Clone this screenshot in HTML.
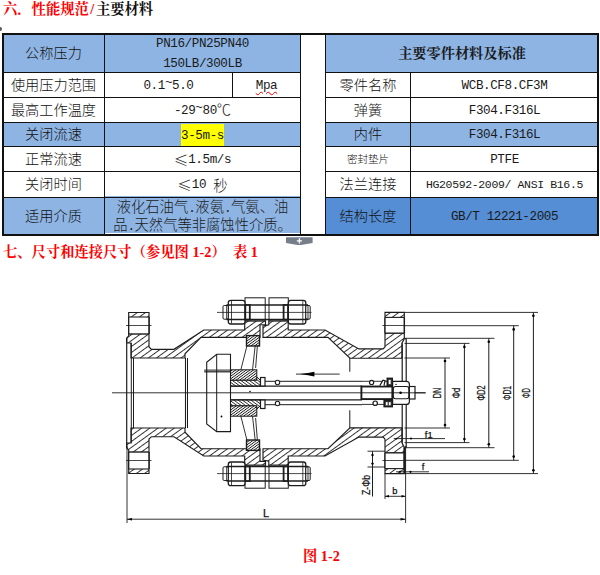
<!DOCTYPE html>
<html lang="zh-CN">
<head>
<meta charset="utf-8">
<title>性能规范</title>
<style>
html,body{margin:0;padding:0;background:#fff;}
body{width:600px;height:575px;position:relative;overflow:hidden;font-family:"Liberation Serif","Noto Serif CJK SC",serif;color:#1a1a1a;}
.abs{position:absolute;}
.h{position:absolute;left:3px;font-weight:700;font-size:14.3px;line-height:16px;white-space:nowrap;color:#f00;font-family:"Liberation Serif","Noto Serif CJK SC",serif;}
.h i{font-style:normal;display:inline-block;width:7.15px;text-align:center;}
.h b{color:#111;font-weight:700;}
.cell{position:absolute;display:flex;align-items:center;justify-content:center;text-align:center;box-sizing:border-box;font-size:14px;line-height:18px;white-space:nowrap;}
.blue{background:#8db4e3;}
.dblue{background:#558ed5;}
.lab{font-family:"Liberation Sans","Noto Sans CJK SC",sans-serif;font-weight:300;font-size:14.2px;letter-spacing:0;color:#111;}
.val{font-family:"Liberation Mono","Noto Sans CJK SC",monospace;font-size:12.6px;letter-spacing:-0.41px;color:#1a1a1a;padding-top:2.5px;}
.cj{font-family:"Noto Sans CJK SC",sans-serif;font-weight:300;font-size:14.3px;line-height:0;letter-spacing:0;}
.cj i{font-style:normal;display:inline-block;width:7.15px;text-align:left;font-family:"Liberation Mono",monospace;font-size:12.6px;line-height:0;}
.ln{position:absolute;background:#111;}
</style>
</head>
<body>
<div class="h" style="top:1px;">六．性能规范<i>/</i><b>主要材料</b></div>
<div class="h" style="top:244px;">七、尺寸和连接尺寸（参见图 1-2）<i> </i>表 1</div>

<!-- left table backgrounds + text -->
<div class="cell blue lab" style="left:3px;top:34px;width:101px;height:38px;">公称压力</div>
<div class="cell blue val" style="left:105px;top:34px;width:195px;height:38px;white-space:normal;line-height:19.5px;padding-top:3px;">PN16/PN25PN40<br>150LB/300LB</div>
<div class="cell lab" style="left:3px;top:72px;width:101px;height:25px;">使用压力范围</div>
<div class="cell val" style="left:105px;top:72px;width:127px;height:25px;">0.1<span style="position:relative;top:-3px;">~</span>5.0</div>
<div class="cell val" style="left:233px;top:72px;width:67px;height:25px;"><span style="text-decoration:underline wavy #e00 1px;text-underline-offset:2px;">Mpa</span></div>
<div class="cell lab" style="left:3px;top:97px;width:101px;height:25px;">最高工作温度</div>
<div class="cell val" style="left:105px;top:97px;width:195px;height:25px;">-29<span style="position:relative;top:-3px;">~</span>80<span class="cj" style="position:relative;top:-1.5px;">℃</span></div>
<div class="cell blue lab" style="left:3px;top:122px;width:101px;height:24px;">关闭流速</div>
<div class="cell blue val" style="left:105px;top:122px;width:195px;height:24px;"><span style="background:#ff0;padding:3px 0 2px;">3-5m-s</span></div>
<div class="cell lab" style="left:3px;top:146px;width:101px;height:25px;">正常流速</div>
<div class="cell val" style="left:105px;top:146px;width:195px;height:25px;"><span class="cj">≤</span>1.5m/s</div>
<div class="cell lab" style="left:3px;top:171px;width:101px;height:26px;">关闭时间</div>
<div class="cell val" style="left:105px;top:171px;width:195px;height:26px;"><span class="cj">≤</span>10&nbsp;<span class="cj">秒</span></div>
<div class="cell blue lab" style="left:3px;top:197px;width:101px;height:37px;">适用介质</div>
<div class="cell blue cj" style="left:105px;top:196px;width:195px;height:37px;white-space:nowrap;line-height:18px;color:#1a1a1a;"><div>液化石油气<i>.</i>液氨<i>.</i>气氨、油<br>品<i>.</i>天然气等非腐蚀性介质。</div></div>

<!-- right table -->
<div class="cell blue" style="left:326px;top:34px;width:272px;height:38px;font-weight:bold;font-size:14.2px;padding-bottom:1px;">主要零件材料及标准</div>
<div class="cell lab" style="left:326px;top:72px;width:84px;height:25px;">零件名称</div>
<div class="cell val" style="left:411px;top:72px;width:187px;height:25px;">WCB.CF8.CF3M</div>
<div class="cell lab" style="left:326px;top:97px;width:84px;height:25px;">弹簧</div>
<div class="cell val" style="left:411px;top:97px;width:187px;height:25px;">F304.F316L</div>
<div class="cell blue lab" style="left:326px;top:122px;width:84px;height:24px;">内件</div>
<div class="cell blue val" style="left:411px;top:122px;width:187px;height:24px;">F304.F316L</div>
<div class="cell lab" style="left:326px;top:146px;width:84px;height:25px;font-size:10.5px;letter-spacing:0;">密封垫片</div>
<div class="cell val" style="left:411px;top:146px;width:187px;height:25px;">PTFE</div>
<div class="cell lab" style="left:326px;top:171px;width:84px;height:26px;">法兰连接</div>
<div class="cell val" style="left:411px;top:171px;width:187px;height:26px;font-size:11.5px;letter-spacing:-0.36px;">HG20592-2009/ ANSI B16.5</div>
<div class="cell dblue lab" style="left:326px;top:197px;width:84px;height:37px;">结构长度</div>
<div class="cell dblue val" style="left:411px;top:197px;width:187px;height:37px;">GB/T 12221-2005</div>

<!-- grid lines -->
<div class="ln" style="left:2px;top:33px;width:596.8px;height:2px;"></div>
<div class="ln" style="left:2px;top:234.4px;width:596.8px;height:1.7px;"></div>
<div class="ln" style="left:2px;top:33px;width:1.5px;height:202px;"></div>
<div class="ln" style="left:104px;top:33px;width:1px;height:202px;"></div>
<div class="ln" style="left:300px;top:33px;width:1.4px;height:202px;"></div>
<div class="ln" style="left:324.5px;top:33px;width:1.4px;height:202px;"></div>
<div class="ln" style="left:410px;top:72px;width:1px;height:163px;"></div>
<div class="ln" style="left:597.4px;top:33px;width:1.4px;height:202px;"></div>
<div class="ln" style="left:232px;top:72px;width:1px;height:25px;"></div>
<!-- h lines left -->
<div class="ln" style="left:2px;top:72px;width:299px;height:1px;"></div>
<div class="ln" style="left:2px;top:97px;width:299px;height:1px;"></div>
<div class="ln" style="left:2px;top:122px;width:299px;height:1px;"></div>
<div class="ln" style="left:2px;top:146px;width:299px;height:1px;"></div>
<div class="ln" style="left:2px;top:171px;width:299px;height:1px;"></div>
<div class="ln" style="left:2px;top:197px;width:299px;height:1px;"></div>
<!-- h lines right -->
<div class="ln" style="left:325px;top:72px;width:274px;height:1px;"></div>
<div class="ln" style="left:325px;top:97px;width:274px;height:1px;"></div>
<div class="ln" style="left:325px;top:122px;width:274px;height:1px;"></div>
<div class="ln" style="left:325px;top:146px;width:274px;height:1px;"></div>
<div class="ln" style="left:325px;top:171px;width:274px;height:1px;"></div>
<div class="ln" style="left:325px;top:197px;width:274px;height:1px;"></div>

<!-- DRAWING -->
<svg class="abs" id="dwg" style="left:0;top:270px;" width="600" height="305" viewBox="0 270 600 305">
<defs>
<pattern id="h1" width="4.8" height="4.8" patternUnits="userSpaceOnUse" patternTransform="rotate(-36)"><rect width="4.8" height="4.8" fill="#fff"/><line x1="0" y1="2.4" x2="4.8" y2="2.4" stroke="#222" stroke-width="0.9"/></pattern>
<pattern id="h2" width="2.1" height="2.1" patternUnits="userSpaceOnUse" patternTransform="rotate(-36)"><rect width="2.1" height="2.1" fill="#fff"/><line x1="0" y1="1.05" x2="2.1" y2="1.05" stroke="#111" stroke-width="0.8"/></pattern>
<pattern id="h3" width="2.5" height="2.5" patternUnits="userSpaceOnUse" patternTransform="rotate(36)"><rect width="2.5" height="2.5" fill="#fff"/><line x1="0" y1="1.25" x2="2.5" y2="1.25" stroke="#222" stroke-width="0.8"/></pattern>
</defs>
<style>.sec{fill:url(#h1);stroke:#1c1c1c;stroke-width:1.15;stroke-linejoin:miter}.s2{fill:url(#h2);stroke:#1c1c1c;stroke-width:1}.s3{fill:url(#h3);stroke:#1c1c1c;stroke-width:1}.t{font-family:"Liberation Sans",sans-serif;font-size:9px;fill:#111;stroke:#111;stroke-width:0.25px}</style>
<path class="sec" d="M131 358 L131 343 L126.7 343 L126.7 338 L128.7 336 L128.7 312.5 L149 312.5 L149 347 L151.5 349.3 L174 349.3 L203.75 330 L244.7 330 L244.7 320.8 L265.5 320.8 L265.5 324.7 L260 324.7 L260 337.3 L201 337.3 L185 353.75 L185 358 Z" />
<path class="sec" d="M131 428 L131 443 L126.7 443 L126.7 448 L128.7 450 L128.7 473.5 L149 473.5 L149 439 L151.5 436.7 L174 436.7 L203.75 456 L244.7 456 L244.7 465.2 L265.5 465.2 L265.5 461.3 L260 461.3 L260 448.7 L201 448.7 L185 432.25 L185 428 Z" />
<path class="sec" d="M263 337.3 L263 326 L268.8 324.7 L268.8 320.8 L288.2 320.8 L288.2 330 L325 330 L358.9 348.9 L383.2 348.9 L385 346.8 L385 312.4 L404.3 312.4 L404.3 338.6 L402 343.2 L402 358.2 L350 358.2 L328 337.3 Z" />
<path class="sec" d="M263 448.7 L263 460 L268.8 461.3 L268.8 465.2 L288.2 465.2 L288.2 456 L325 456 L358.9 437.1 L383.2 437.1 L385 439.2 L385 473.6 L404.3 473.6 L404.3 447.4 L402 442.8 L402 427.8 L350 427.8 L328 448.7 Z" />
<rect x="128.7" y="317" width="20.30000000000001" height="17" fill="#fff"/>
<line x1="128.7" y1="317" x2="149" y2="317" stroke="#1c1c1c" stroke-width="1.1" />
<line x1="128.7" y1="334" x2="149" y2="334" stroke="#1c1c1c" stroke-width="1.4" />
<line x1="128.7" y1="317" x2="128.7" y2="334" stroke="#1c1c1c" stroke-width="1.3" />
<line x1="149" y1="317" x2="149" y2="334" stroke="#1c1c1c" stroke-width="1.5" />
<line x1="126" y1="325.5" x2="151.5" y2="325.5" stroke="#1c1c1c" stroke-width="0.8" />
<rect x="128.7" y="452" width="20.30000000000001" height="17" fill="#fff"/>
<line x1="128.7" y1="469" x2="149" y2="469" stroke="#1c1c1c" stroke-width="1.1" />
<line x1="128.7" y1="452" x2="149" y2="452" stroke="#1c1c1c" stroke-width="1.4" />
<line x1="128.7" y1="469" x2="128.7" y2="452" stroke="#1c1c1c" stroke-width="1.3" />
<line x1="149" y1="469" x2="149" y2="452" stroke="#1c1c1c" stroke-width="1.5" />
<line x1="126" y1="460.5" x2="151.5" y2="460.5" stroke="#1c1c1c" stroke-width="0.8" />
<rect x="385" y="317.4" width="19.30000000000001" height="15.8" fill="#fff"/>
<line x1="385" y1="317.4" x2="404.3" y2="317.4" stroke="#1c1c1c" stroke-width="1.1" />
<line x1="385" y1="333.2" x2="404.3" y2="333.2" stroke="#1c1c1c" stroke-width="1.4" />
<line x1="385" y1="317.4" x2="385" y2="333.2" stroke="#1c1c1c" stroke-width="1.3" />
<line x1="404.3" y1="317.4" x2="404.3" y2="333.2" stroke="#1c1c1c" stroke-width="1.5" />
<line x1="382.4" y1="325.5" x2="404.3" y2="325.5" stroke="#1c1c1c" stroke-width="0.8" />
<rect x="385" y="452.8" width="19.30000000000001" height="15.8" fill="#fff"/>
<line x1="385" y1="468.6" x2="404.3" y2="468.6" stroke="#1c1c1c" stroke-width="1.1" />
<line x1="385" y1="452.8" x2="404.3" y2="452.8" stroke="#1c1c1c" stroke-width="1.4" />
<line x1="385" y1="468.6" x2="385" y2="452.8" stroke="#1c1c1c" stroke-width="1.3" />
<line x1="404.3" y1="468.6" x2="404.3" y2="452.8" stroke="#1c1c1c" stroke-width="1.5" />
<line x1="382.4" y1="460.5" x2="404.3" y2="460.5" stroke="#1c1c1c" stroke-width="0.8" />
<line x1="126.7" y1="338" x2="126.7" y2="448" stroke="#1c1c1c" stroke-width="1.2" />
<line x1="131.3" y1="343" x2="131.3" y2="443" stroke="#1c1c1c" stroke-width="1" />
<line x1="133.5" y1="358" x2="133.5" y2="428" stroke="#1c1c1c" stroke-width="1" />
<line x1="185.5" y1="358" x2="185.5" y2="428" stroke="#1c1c1c" stroke-width="1.1" />
<line x1="187.5" y1="358" x2="187.5" y2="428" stroke="#1c1c1c" stroke-width="1" />
<path d="M404.3 338.8 L406.3 338.8" fill="none" stroke="#1c1c1c" stroke-width="1" />
<path d="M404.3 447.2 L406.3 447.2" fill="none" stroke="#1c1c1c" stroke-width="1" />
<line x1="402.2" y1="343.2" x2="402.2" y2="442.8" stroke="#1c1c1c" stroke-width="1.2" />
<line x1="406.2" y1="338.8" x2="406.2" y2="447.2" stroke="#1c1c1c" stroke-width="1.2" />
<line x1="349.8" y1="358" x2="349.8" y2="371.7" stroke="#1c1c1c" stroke-width="1" />
<line x1="349.8" y1="410.3" x2="349.8" y2="428" stroke="#1c1c1c" stroke-width="1" />
<line x1="404.6" y1="447.5" x2="404.6" y2="473.5" stroke="#1c1c1c" stroke-width="2.2" />
<rect x="245" y="297.8" width="20.2" height="23" fill="#fff" stroke="#1c1c1c" stroke-width="1" />
<rect x="269" y="297.8" width="19.3" height="23" fill="#fff" stroke="#1c1c1c" stroke-width="1" />
<rect x="228.3" y="300.3" width="16.7" height="23.7" fill="#fff" stroke="#1c1c1c" stroke-width="1.3" rx="2.5"/>
<rect x="288.3" y="300.3" width="17.5" height="23.7" fill="#fff" stroke="#1c1c1c" stroke-width="1.3" rx="2.5"/>
<rect x="223" y="305.5" width="5.3" height="13.7" fill="#fff" stroke="#1c1c1c" stroke-width="1" rx="1.2"/>
<rect x="305.8" y="305.5" width="4.4" height="13.7" fill="#fff" stroke="#1c1c1c" stroke-width="1" rx="1.2"/>
<line x1="226.5" y1="305" x2="308" y2="305" stroke="#1c1c1c" stroke-width="1.5" />
<line x1="226.5" y1="319.5" x2="308" y2="319.5" stroke="#1c1c1c" stroke-width="1.5" />
<line x1="226.7" y1="305" x2="226.7" y2="319.5" stroke="#1c1c1c" stroke-width="0.9" />
<line x1="308" y1="305" x2="308" y2="319.5" stroke="#1c1c1c" stroke-width="0.9" />
<line x1="231.5" y1="301" x2="231.5" y2="323.5" stroke="#1c1c1c" stroke-width="0.8" />
<line x1="302.8" y1="301" x2="302.8" y2="323.5" stroke="#1c1c1c" stroke-width="0.8" />
<rect x="245.3" y="305" width="4.5" height="14.5" fill="#fff" stroke="#1c1c1c" stroke-width="1.8" />
<rect x="283.6" y="305" width="4.4" height="14.5" fill="#fff" stroke="#1c1c1c" stroke-width="1.8" />
<line x1="217" y1="312.4" x2="311.5" y2="312.4" stroke="#1c1c1c" stroke-width="0.8" />
<rect class="s2" style="stroke-width:1.4" x="246.5" y="335.6" width="13" height="10.4"/>
<path d="M247 345.6 L240.8 370" fill="none" stroke="#1c1c1c" stroke-width="0.9" />
<path d="M255.2 345.6 L252.5 370" fill="none" stroke="#1c1c1c" stroke-width="0.9" />
<path d="M257.4 345.6 L255.6 368" fill="none" stroke="#1c1c1c" stroke-width="0.9" />
<rect class="s2" x="230.5" y="369.8" width="26.3" height="10.5"/>
<path class="s3" d="M230.5 380.3 L256.8 380.3 L256.8 377 L260.4 380.3 L260.4 386.2 L230.5 386.2 Z" />
<line x1="264" y1="381.3" x2="362" y2="381.3" stroke="#1c1c1c" stroke-width="1" />
<line x1="230.5" y1="386.2" x2="362" y2="386.2" stroke="#1c1c1c" stroke-width="1.2" />
<rect x="260.5" y="377.5" width="4.5" height="8.5" fill="#fff" stroke="#1c1c1c" stroke-width="1.2" />
<circle cx="277.5" cy="382.5" r="2.2" fill="#fff" stroke="#1c1c1c" stroke-width="1.1"/>
<rect x="245" y="465.2" width="20.2" height="23" fill="#fff" stroke="#1c1c1c" stroke-width="1" />
<rect x="269" y="465.2" width="19.3" height="23" fill="#fff" stroke="#1c1c1c" stroke-width="1" />
<rect x="228.3" y="462" width="16.7" height="23.7" fill="#fff" stroke="#1c1c1c" stroke-width="1.3" rx="2.5"/>
<rect x="288.3" y="462" width="17.5" height="23.7" fill="#fff" stroke="#1c1c1c" stroke-width="1.3" rx="2.5"/>
<rect x="223" y="466.8" width="5.3" height="13.7" fill="#fff" stroke="#1c1c1c" stroke-width="1" rx="1.2"/>
<rect x="305.8" y="466.8" width="4.4" height="13.7" fill="#fff" stroke="#1c1c1c" stroke-width="1" rx="1.2"/>
<line x1="226.5" y1="481" x2="308" y2="481" stroke="#1c1c1c" stroke-width="1.5" />
<line x1="226.5" y1="466.5" x2="308" y2="466.5" stroke="#1c1c1c" stroke-width="1.5" />
<line x1="226.7" y1="481" x2="226.7" y2="466.5" stroke="#1c1c1c" stroke-width="0.9" />
<line x1="308" y1="481" x2="308" y2="466.5" stroke="#1c1c1c" stroke-width="0.9" />
<line x1="231.5" y1="485" x2="231.5" y2="462.5" stroke="#1c1c1c" stroke-width="0.8" />
<line x1="302.8" y1="485" x2="302.8" y2="462.5" stroke="#1c1c1c" stroke-width="0.8" />
<rect x="245.3" y="466.5" width="4.5" height="14.5" fill="#fff" stroke="#1c1c1c" stroke-width="1.8" />
<rect x="283.6" y="466.5" width="4.4" height="14.5" fill="#fff" stroke="#1c1c1c" stroke-width="1.8" />
<line x1="217" y1="473.6" x2="311.5" y2="473.6" stroke="#1c1c1c" stroke-width="0.8" />
<rect class="s2" style="stroke-width:1.4" x="246.5" y="440" width="13" height="10.4"/>
<path d="M247 440.4 L240.8 416" fill="none" stroke="#1c1c1c" stroke-width="0.9" />
<path d="M255.2 440.4 L252.5 416" fill="none" stroke="#1c1c1c" stroke-width="0.9" />
<path d="M257.4 440.4 L255.6 418" fill="none" stroke="#1c1c1c" stroke-width="0.9" />
<rect class="s2" x="230.5" y="405.7" width="26.3" height="10.5"/>
<path class="s3" d="M230.5 405.7 L256.8 405.7 L256.8 409 L260.4 405.7 L260.4 399.8 L230.5 399.8 Z" />
<line x1="264" y1="404.7" x2="362" y2="404.7" stroke="#1c1c1c" stroke-width="1" />
<line x1="230.5" y1="399.8" x2="362" y2="399.8" stroke="#1c1c1c" stroke-width="1.2" />
<rect x="260.5" y="400" width="4.5" height="8.5" fill="#fff" stroke="#1c1c1c" stroke-width="1.2" />
<circle cx="277.5" cy="403.5" r="2.2" fill="#fff" stroke="#1c1c1c" stroke-width="1.1"/>
<path class="d" d="M206.7 362.3 L216.7 354.2 L230.5 354.2 L230.5 431.6 L216.7 431.6 L206.7 424 Z" fill="#fff" stroke="#1c1c1c" stroke-width="1.1"/>
<line x1="216.7" y1="354.2" x2="216.7" y2="431.6" stroke="#1c1c1c" stroke-width="1" />
<line x1="204.2" y1="370.1" x2="230.5" y2="370.1" stroke="#1c1c1c" stroke-width="1" />
<line x1="204.2" y1="371.8" x2="230.5" y2="371.8" stroke="#1c1c1c" stroke-width="1.2" />
<circle cx="221.5" cy="416.5" r="0.9" fill="#000"/>
<circle cx="250" cy="391.5" r="0.8" fill="#000"/>
<line x1="112" y1="392.8" x2="425.6" y2="392.8" stroke="#1c1c1c" stroke-width="0.9" />
<line x1="362" y1="381.3" x2="391" y2="381.3" stroke="#1c1c1c" stroke-width="0.9" />
<line x1="362" y1="404.4" x2="385" y2="404.4" stroke="#1c1c1c" stroke-width="0.9" />
<rect x="361.4" y="386.5" width="31.1" height="12.6" fill="#fff" stroke="#1c1c1c" stroke-width="1.9" />
<path d="M392.5 381.3 L406.4 381.3 Q409.4 381.3 409.4 384.3 L409.4 401.4 Q409.4 404.4 406.4 404.4 L392.5 404.4 Z" fill="#fff" stroke="#1c1c1c" stroke-width="1.2"/>
<rect x="393.3" y="386.5" width="15.6" height="12.3" rx="2.2" fill="none" stroke="#1c1c1c" stroke-width="1.1"/>
<rect x="409.4" y="386.5" width="5.6" height="12.5" fill="#fff" stroke="#1c1c1c" stroke-width="1.2" />
<line x1="392.5" y1="381.3" x2="392.5" y2="404.4" stroke="#1c1c1c" stroke-width="1.3" />
<line x1="361.4" y1="392.8" x2="425.6" y2="392.8" stroke="#1c1c1c" stroke-width="0.9" />
<circle cx="400.6" cy="392.8" r="1.3" fill="#000"/>
<circle cx="396" cy="384.4" r="0.7" fill="#000"/>
<circle cx="371.6" cy="382.4" r="2.1" fill="#fff" stroke="#1c1c1c" stroke-width="1.2"/>
<path d="M379.8 385.6 L383 380.2 L385 380.6 L384 385.6" fill="#fff" stroke="#1c1c1c" stroke-width="1.2"/>
<rect x="387.3" y="378.4" width="4.9" height="7.2" fill="#555" stroke="#1c1c1c" stroke-width="1.6" />
<rect x="388.8" y="380" width="1.8" height="4" fill="#fff"/>
<circle cx="375.2" cy="403.2" r="2.2" fill="#fff" stroke="#1c1c1c" stroke-width="1.2"/>
<rect x="384.2" y="400.8" width="8" height="5.8" fill="#555" stroke="#1c1c1c" stroke-width="1.6" />
<rect x="386" y="402.2" width="1.6" height="3" fill="#fff"/><rect x="389" y="402.2" width="1.6" height="3" fill="#fff"/>
<line x1="296" y1="374.1" x2="339.7" y2="374.1" stroke="#1c1c1c" stroke-width="0.9" />
<path d="M300 374.1 L308 372.9 L314.4 371.7 L314.4 376.5 L308 375.3 Z" fill="#000"/>
<line x1="404.5" y1="358" x2="450" y2="358" stroke="#1c1c1c" stroke-width="0.9" />
<line x1="404.5" y1="428" x2="450" y2="428" stroke="#1c1c1c" stroke-width="0.9" />
<line x1="445" y1="358" x2="445" y2="428" stroke="#1c1c1c" stroke-width="1" />
<circle cx="445" cy="361" r="1.3" fill="#000"/>
<circle cx="445" cy="425" r="1.3" fill="#000"/>
<text class="t" style="font-size:11px" transform="translate(441 398.2) rotate(-90)" textLength="10.4" lengthAdjust="spacingAndGlyphs">DN</text>
<line x1="404.5" y1="343.4" x2="469.5" y2="343.4" stroke="#1c1c1c" stroke-width="0.9" />
<line x1="404.5" y1="442.6" x2="469.5" y2="442.6" stroke="#1c1c1c" stroke-width="0.9" />
<line x1="464.4" y1="343.4" x2="464.4" y2="442.6" stroke="#1c1c1c" stroke-width="1" />
<circle cx="464.4" cy="346.9" r="1.3" fill="#000"/>
<circle cx="464.4" cy="439.1" r="1.3" fill="#000"/>
<text class="t" style="font-size:11px" transform="translate(460 398.2) rotate(-90)" textLength="10.4" lengthAdjust="spacingAndGlyphs">Φd</text>
<line x1="404.5" y1="338.3" x2="494.5" y2="338.3" stroke="#1c1c1c" stroke-width="0.9" />
<line x1="404.5" y1="447.7" x2="494.5" y2="447.7" stroke="#1c1c1c" stroke-width="0.9" />
<line x1="488.8" y1="338.3" x2="488.8" y2="447.7" stroke="#1c1c1c" stroke-width="1" />
<circle cx="488.8" cy="341.8" r="1.3" fill="#000"/>
<circle cx="488.8" cy="444.2" r="1.3" fill="#000"/>
<text class="t" style="font-size:11px" transform="translate(484.6 400.5) rotate(-90)" textLength="15" lengthAdjust="spacingAndGlyphs">ΦD2</text>
<line x1="404.5" y1="325.7" x2="518.75" y2="325.7" stroke="#1c1c1c" stroke-width="0.9" />
<line x1="404.5" y1="460.3" x2="518.75" y2="460.3" stroke="#1c1c1c" stroke-width="0.9" />
<line x1="513.7" y1="325.7" x2="513.7" y2="460.3" stroke="#1c1c1c" stroke-width="1" />
<circle cx="513.7" cy="329.4" r="1.3" fill="#000"/>
<circle cx="513.7" cy="456.6" r="1.3" fill="#000"/>
<text class="t" style="font-size:11px" transform="translate(510.6 400) rotate(-90)" textLength="14" lengthAdjust="spacingAndGlyphs">ΦD1</text>
<line x1="404.5" y1="312.4" x2="538" y2="312.4" stroke="#1c1c1c" stroke-width="0.9" />
<line x1="404.5" y1="473.6" x2="538" y2="473.6" stroke="#1c1c1c" stroke-width="0.9" />
<line x1="533.4" y1="312.4" x2="533.4" y2="473.6" stroke="#1c1c1c" stroke-width="1" />
<circle cx="533.4" cy="315.8" r="1.3" fill="#000"/>
<circle cx="533.4" cy="470.2" r="1.3" fill="#000"/>
<text class="t" style="font-size:11px" transform="translate(530.2 397.9) rotate(-90)" textLength="9.8" lengthAdjust="spacingAndGlyphs">ΦD</text>
<line x1="393.75" y1="438.6" x2="445" y2="438.6" stroke="#1c1c1c" stroke-width="0.9" />
<circle cx="396.5" cy="438.6" r="0.9" fill="#000"/>
<circle cx="411" cy="438.6" r="1" fill="#000"/>
<text class="t" style="font-size:9.3px" x="424.8" y="438.2">f1</text>
<line x1="396" y1="471.8" x2="429" y2="471.8" stroke="#1c1c1c" stroke-width="0.9" />
<circle cx="400" cy="471.8" r="1" fill="#000"/>
<circle cx="410.5" cy="471.8" r="1.1" fill="#000"/>
<text class="t" style="font-size:9.3px" x="421.8" y="470">f</text>
<line x1="367.5" y1="451.2" x2="385" y2="451.2" stroke="#1c1c1c" stroke-width="0.9" />
<line x1="367.5" y1="467" x2="385" y2="467" stroke="#1c1c1c" stroke-width="0.9" />
<line x1="372.5" y1="451.2" x2="372.5" y2="496.5" stroke="#1c1c1c" stroke-width="1" />
<circle cx="372.5" cy="455" r="1.2" fill="#000"/>
<circle cx="372.5" cy="463.6" r="1.2" fill="#000"/>
<text class="t" style="font-size:11.5px" transform="translate(369.6 495) rotate(-90)" textLength="20" lengthAdjust="spacingAndGlyphs">Z-Φb</text>
<line x1="385" y1="473.5" x2="385" y2="499" stroke="#1c1c1c" stroke-width="0.9" />
<line x1="385" y1="496.3" x2="405.5" y2="496.3" stroke="#1c1c1c" stroke-width="0.9" />
<path d="M385 496.3 L389 495 L389 497.6 Z M405.5 496.3 L401.5 495 L401.5 497.6 Z" fill="#000"/>
<text class="t" style="font-size:9.3px" x="392.2" y="494.2">b</text>
<line x1="127" y1="446" x2="127" y2="523" stroke="#1c1c1c" stroke-width="0.9" />
<line x1="405.6" y1="446" x2="405.6" y2="523" stroke="#1c1c1c" stroke-width="0.9" />
<line x1="127" y1="519.2" x2="405.6" y2="519.2" stroke="#1c1c1c" stroke-width="0.9" />
<path d="M127 519.2 L132 518 L132 520.4 Z M405.6 519.2 L400.6 518 L400.6 520.4 Z" fill="#000"/>
<text class="t" style="font-size:11px" x="263" y="517.4">L</text>
</svg>
<div class="h" style="left:303px;top:548px;">图 1-2</div>
<svg class="abs" style="left:284px;top:236px;" width="32" height="12" viewBox="0 0 32 12"><path d="M2 1.3 L28.6 1.3 L28.6 7 L17 9 L13.5 9 L2 7 Z" fill="#767e8a"/><path d="M15.4 2.2 V7.4 M12.8 4.8 H18" stroke="#fff" stroke-width="1.3" fill="none"/></svg>
<div class="abs" style="left:0;top:27px;width:2px;height:4px;background:#555;border-radius:0 2px 2px 0;"></div>
</body>
</html>
